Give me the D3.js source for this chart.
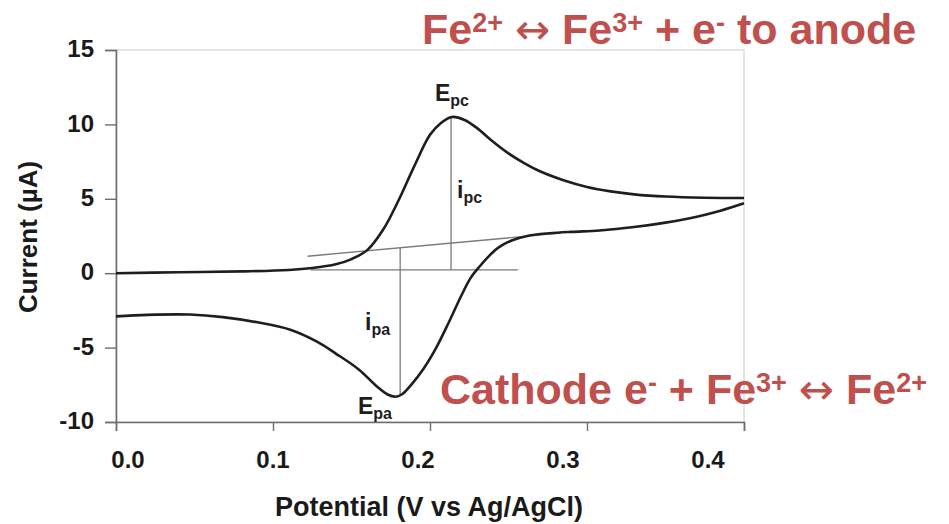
<!DOCTYPE html>
<html>
<head>
<meta charset="utf-8">
<script src="https://cdn.jsdelivr.net/npm/d3@7"></script>
<style>
  body { margin: 0; background: #fff; }
  svg { display: block; font-family: "Liberation Sans", Arial, sans-serif; }
</style>
</head>
<body>
<div id="chart"></div>
<script>
// forward sweep (upper branch), E in V, I in uA
var forwardE = [0.000, 0.040, 0.080, 0.110, 0.125, 0.140, 0.150, 0.160, 0.170, 0.180, 0.190, 0.200, 0.207, 0.214, 0.222, 0.230, 0.240, 0.250, 0.260, 0.270, 0.285, 0.300, 0.315, 0.330, 0.350, 0.375, 0.400];
var forwardI = [0.00, 0.06, 0.12, 0.22, 0.35, 0.60, 0.95, 1.55, 2.9, 4.9, 7.2, 9.3, 10.1, 10.5, 10.3, 9.75, 8.85, 8.05, 7.4, 6.85, 6.25, 5.8, 5.5, 5.3, 5.15, 5.07, 5.05];

// reverse sweep (lower branch)
var reverseE = [0.400, 0.385, 0.370, 0.350, 0.330, 0.308, 0.290, 0.276, 0.262, 0.252, 0.244, 0.238, 0.232, 0.226, 0.220, 0.212, 0.204, 0.196, 0.188, 0.182, 0.178, 0.173, 0.166, 0.155, 0.140, 0.128, 0.111, 0.090, 0.068, 0.047, 0.020, 0.000];
var reverseI = [4.7, 4.2, 3.8, 3.4, 3.1, 2.87, 2.78, 2.68, 2.5, 2.2, 1.75, 1.2, 0.5, -0.3, -1.5, -3.3, -5.0, -6.4, -7.5, -8.15, -8.3, -8.15, -7.6, -6.5, -5.4, -4.6, -3.8, -3.3, -2.95, -2.78, -2.8, -2.9];

// construction lines
var flatBaseE = [0.124, 0.256];
var flatBaseI = [0.23, 0.23];
var slopeBaseE = [0.122, 0.283];
var slopeBaseI = [1.14, 2.69];
var ipcE = 0.2134, ipcI = [0.23, 10.5];
var ipaE = 0.181, ipaI = [1.71, -8.2];

var xTicks = [0, 0.1, 0.2, 0.3, 0.4];
var xTickLabels = ['0.0', '0.1', '0.2', '0.3', '0.4'];
var yTicks = [15, 10, 5, 0, -5, -10];

var width = 949, height = 524;
var red = '#c0504d';

var svg = d3.select('#chart').append('svg')
  .attr('width', width)
  .attr('height', height);

var x = d3.scaleLinear().domain([0, 0.4]).range([116, 744]);
var y = d3.scaleLinear().domain([-10, 15]).range([422, 50]);
// tick labels in the source sit a little apart from their ticks
var xLabel = d3.scaleLinear().domain([0, 0.4]).range([128, 708]);

// faint plot frame
svg.append('rect')
  .attr('x', x(0)).attr('y', y(15))
  .attr('width', x(0.4) - x(0)).attr('height', y(-10) - y(15))
  .attr('fill', 'none')
  .attr('stroke', '#e4e4e4')
  .attr('stroke-width', 2);

var yAxis = svg.append('g')
  .attr('transform', 'translate(' + x(0) + ',0)')
  .call(d3.axisLeft(y).tickValues(yTicks).tickSize(11).tickPadding(11).tickFormat(function(d) { return String(d); }));

var xAxis = svg.append('g')
  .attr('transform', 'translate(0,' + y(-10) + ')')
  .call(d3.axisBottom(x).tickValues(xTicks).tickSize(9).tickFormat(''));

[yAxis, xAxis].forEach(function(g) {
  g.select('.domain').attr('stroke', '#6e6e6e').attr('stroke-width', 1.6);
  g.selectAll('.tick line').attr('stroke', '#6e6e6e').attr('stroke-width', 1.4);
});

yAxis.selectAll('.tick text')
  .attr('fill', '#1a1a1a')
  .attr('font-size', 24)
  .attr('font-weight', 'bold')
  .attr('dy', '0.28em');

svg.append('g').selectAll('text')
  .data(xTicks)
  .join('text')
  .attr('x', function(d) { return xLabel(d); })
  .attr('y', 468)
  .attr('text-anchor', 'middle')
  .attr('font-size', 24)
  .attr('font-weight', 'bold')
  .attr('fill', '#1a1a1a')
  .text(function(d, i) { return xTickLabels[i]; });

svg.append('text')
  .attr('transform', 'translate(37,237)rotate(-90)')
  .attr('text-anchor', 'middle')
  .attr('font-size', 26)
  .attr('font-weight', 'bold')
  .attr('fill', '#1a1a1a')
  .text('Current (\u00b5A)');

svg.append('text')
  .attr('x', 429)
  .attr('y', 516)
  .attr('text-anchor', 'middle')
  .attr('font-size', 27)
  .attr('font-weight', 'bold')
  .attr('fill', '#1a1a1a')
  .text('Potential (V vs Ag/AgCl)');

// thin construction lines
var thin = svg.append('g')
  .attr('stroke', '#7a7a7a')
  .attr('stroke-width', 1.3)
  .attr('fill', 'none');

thin.append('line')
  .attr('x1', x(flatBaseE[0])).attr('y1', y(flatBaseI[0]))
  .attr('x2', x(flatBaseE[1])).attr('y2', y(flatBaseI[1]));
thin.append('line')
  .attr('x1', x(slopeBaseE[0])).attr('y1', y(slopeBaseI[0]))
  .attr('x2', x(slopeBaseE[1])).attr('y2', y(slopeBaseI[1]));
thin.append('line')
  .attr('x1', x(ipcE)).attr('y1', y(ipcI[0]))
  .attr('x2', x(ipcE)).attr('y2', y(ipcI[1]));
thin.append('line')
  .attr('x1', x(ipaE)).attr('y1', y(ipaI[0]))
  .attr('x2', x(ipaE)).attr('y2', y(ipaI[1]));

var line = d3.line()
  .x(function(d) { return x(d[0]); })
  .y(function(d) { return y(d[1]); })
  .curve(d3.curveCatmullRom.alpha(0.5));

var sweeps = [d3.zip(forwardE, forwardI), d3.zip(reverseE, reverseI)];

svg.append('g').selectAll('path')
  .data(sweeps)
  .join('path')
  .attr('d', line)
  .attr('fill', 'none')
  .attr('stroke', '#1e1e1e')
  .attr('stroke-width', 2.6);

// peak labels: main letter + subscript
function peakLabel(px, py, main, sub) {
  var t = svg.append('text')
    .attr('x', px).attr('y', py)
    .attr('font-weight', 'bold')
    .attr('fill', '#1e1e1e');
  t.append('tspan').attr('font-size', 23).text(main);
  t.append('tspan').attr('font-size', 16).attr('dy', 5).text(sub);
}
peakLabel(435, 101, 'E', 'pc');
peakLabel(457, 198, 'i', 'pc');
peakLabel(365, 330, 'i', 'pa');
peakLabel(358, 414, 'E', 'pa');

// red reaction captions
function reaction(px, py, parts) {
  var t = svg.append('text')
    .attr('x', px).attr('y', py)
    .attr('font-size', 43)
    .attr('font-weight', 'bold')
    .attr('fill', red);
  var shift = 0;
  parts.forEach(function(p) {
    var s = t.append('tspan').text(p.t);
    var dy = p.sup ? -12 - shift : -shift;
    if (p.sup) s.attr('font-size', 27);
    if (p.arrow) s.attr('font-weight', 'normal').attr('font-family', '"DejaVu Sans", sans-serif').attr('font-size', 42);
    if (dy !== 0) s.attr('dy', dy);
    shift += dy;
  });
}

reaction(422, 44, [
  {t: 'Fe'}, {t: '2+', sup: true}, {t: ' '}, {t: '\u2194', arrow: true}, {t: ' Fe'},
  {t: '3+', sup: true}, {t: ' + e'}, {t: '-', sup: true}, {t: ' to anode'}
]);

reaction(440, 404, [
  {t: 'Cathode e'}, {t: '-', sup: true}, {t: ' + Fe'}, {t: '3+', sup: true}, {t: ' '},
  {t: '\u2194', arrow: true}, {t: ' Fe'}, {t: '2+', sup: true}
]);
</script>
</body>
</html>
